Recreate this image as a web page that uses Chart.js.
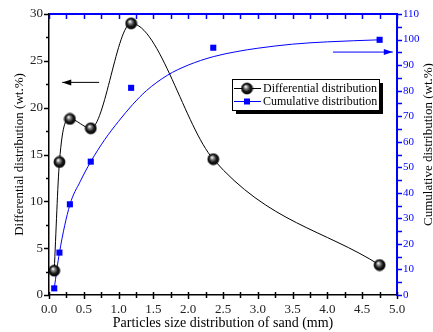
<!DOCTYPE html>
<html>
<head>
<meta charset="utf-8">
<script src="https://cdn.jsdelivr.net/npm/chart.js@4.4.1/dist/chart.umd.min.js"></script>
<style>
  html,body{margin:0;padding:0;background:#fff;}
  #wrap{width:433px;height:332px;}
</style>
</head>
<body>
<div id="wrap"><canvas id="c" width="433" height="332"></canvas></div>
<script>
// sieve sizes (mm) and measured values
const sizeMM = [0.075, 0.15, 0.3, 0.6, 1.18, 2.36, 4.75];
const differential = [2.6, 14.2, 18.8, 17.8, 29.0, 14.5, 3.2];
const cumulative = [2.6, 16.6, 35.5, 52.2, 81.1, 96.8, 99.9];
// fitted cumulative curve
const fitX = [0.075, 0.15, 0.3, 0.45, 0.6, 0.8, 1.0, 1.2, 1.4, 1.7, 2.0, 2.36, 2.7, 3.0, 3.5, 4.0, 4.75];
const fitY = [2.5, 16.6, 35.3, 44.5, 52.2, 60.8, 68.0, 74.5, 80.0, 86.0, 90.0, 93.3, 95.3, 96.6, 98.2, 99.1, 99.9];
// axis ranges
const xRange = [0, 5], xStep = 0.5;
const leftRange = [0, 30], leftStep = 5;
const rightRange = [0, 110], rightStep = 10;

const BLUE = '#0000ff';
const SERIF = '"Liberation Serif", "Times New Roman", serif';

// glossy black ball marker
function makeBall(r){
  const c = document.createElement('canvas');
  const s = Math.ceil(r*2+2);
  c.width = s; c.height = s;
  const g = c.getContext('2d');
  const cx = s/2, cy = s/2;
  const grad = g.createRadialGradient(cx-r*0.25, cy-r*0.35, 0.5, cx, cy, r);
  grad.addColorStop(0, '#f2f2f2');
  grad.addColorStop(0.25, '#8a8a8a');
  grad.addColorStop(0.65, '#1a1a1a');
  grad.addColorStop(1, '#000');
  g.beginPath(); g.arc(cx, cy, r, 0, Math.PI*2);
  g.fillStyle = grad; g.fill();
  g.lineWidth = 0.8; g.strokeStyle = '#000'; g.stroke();
  return c;
}
const ball = makeBall(5.5);

const pts = (xs, ys) => xs.map((x,i)=>({x, y: ys[i]}));

function arrow(ctx, x1, y1, x2, y2, color){
  ctx.save();
  ctx.strokeStyle = color; ctx.fillStyle = color; ctx.lineWidth = 1;
  ctx.beginPath(); ctx.moveTo(x1, y1); ctx.lineTo(x2, y2); ctx.stroke();
  const d = Math.sign(x2 - x1);
  ctx.beginPath();
  ctx.moveTo(x2, y2); ctx.lineTo(x2 - d*9, y2 - 3); ctx.lineTo(x2 - d*9, y2 + 3); ctx.closePath();
  ctx.fill();
  ctx.restore();
}

const decor = {
  id: 'decor',
  afterDraw(chart){
    const ctx = chart.ctx;
    const {x, y, y1} = chart.scales;
    const a = chart.chartArea;
    ctx.save();

    // top frame (blue) with ticks pointing in
    ctx.strokeStyle = BLUE; ctx.lineWidth = 2;
    ctx.beginPath(); ctx.moveTo(a.left, a.top); ctx.lineTo(a.right + 1, a.top); ctx.stroke();
    ctx.lineWidth = 1.5;
    for (let v = xRange[0]; v <= xRange[1] + 1e-9; v += xStep/2){
      const px = Math.round(x.getPixelForValue(v)) + 0.5;
      ctx.beginPath(); ctx.moveTo(px, a.top); ctx.lineTo(px, a.top + 5); ctx.stroke();
    }

    // bottom ticks
    ctx.strokeStyle = '#000';
    for (let v = xRange[0]; v <= xRange[1] + 1e-9; v += xStep/2){
      const major = Math.abs(v/xStep - Math.round(v/xStep)) < 1e-6;
      const px = Math.round(x.getPixelForValue(v)) + 0.5;
      ctx.beginPath(); ctx.moveTo(px, a.bottom - 3); ctx.lineTo(px, a.bottom + (major ? 4 : 3)); ctx.stroke();
    }
    // left ticks
    for (let v = leftRange[0]; v <= leftRange[1] + 1e-9; v += leftStep/2){
      const major = Math.abs(v/leftStep - Math.round(v/leftStep)) < 1e-6;
      const py = Math.round(y.getPixelForValue(v)) + 0.5;
      ctx.beginPath(); ctx.moveTo(a.left - (major ? 5 : 3), py); ctx.lineTo(a.left, py); ctx.stroke();
    }
    // right ticks (blue)
    ctx.strokeStyle = BLUE;
    for (let v = rightRange[0]; v <= rightRange[1] + 1e-9; v += rightStep/2){
      const py = Math.round(y1.getPixelForValue(v)) + 0.5;
      ctx.beginPath(); ctx.moveTo(a.right, py); ctx.lineTo(a.right + 5, py); ctx.stroke();
    }

    // arrows pointing to the owning axis
    arrow(ctx, x.getPixelForValue(0.72), y.getPixelForValue(22.7), x.getPixelForValue(0.19), y.getPixelForValue(22.7), '#000');
    arrow(ctx, x.getPixelForValue(4.08), y1.getPixelForValue(95.1), x.getPixelForValue(4.94), y1.getPixelForValue(95.1), BLUE);

    // axis titles
    ctx.fillStyle = '#000';
    ctx.textAlign = 'center'; ctx.textBaseline = 'middle';
    ctx.font = '14px ' + SERIF;
    ctx.fillText('Particles size distribution of sand (mm)', (a.left + a.right)/2, 323);
    ctx.save();
    ctx.translate(20, (a.top + a.bottom)/2); ctx.rotate(-Math.PI/2);
    ctx.font = '13px ' + SERIF;
    ctx.fillText('Differential distribution (wt.%)', 0, 0);
    ctx.restore();
    ctx.save();
    ctx.translate(429, (a.top + a.bottom)/2 - 10); ctx.rotate(-Math.PI/2);
    ctx.font = '13px ' + SERIF;
    ctx.fillText('Cumulative distribution (wt.%)', 0, 0);
    ctx.restore();

    // legend box with shadow
    const lx = 232, ly = 79, lw = 147, lh = 31;
    ctx.fillStyle = '#000';
    ctx.fillRect(lx + 4, ly + 4, lw, lh);
    ctx.fillStyle = '#fff';
    ctx.fillRect(lx, ly, lw, lh);
    ctx.strokeStyle = '#000'; ctx.lineWidth = 1;
    ctx.strokeRect(lx + 0.5, ly + 0.5, lw, lh);
    const rows = [
      {label: 'Differential distribution', color: '#000', y: ly + 9.5},
      {label: 'Cumulative distribution', color: BLUE, y: ly + 22.5}
    ];
    rows.forEach((r, i) => {
      ctx.strokeStyle = r.color; ctx.lineWidth = 1;
      ctx.beginPath(); ctx.moveTo(lx + 2, r.y); ctx.lineTo(lx + 29, r.y); ctx.stroke();
      if (i === 0) ctx.drawImage(ball, lx + 15 - ball.width/2, r.y - ball.height/2);
      else { ctx.fillStyle = BLUE; ctx.fillRect(lx + 12, r.y - 3, 6, 6); }
      ctx.fillStyle = '#000';
      ctx.textAlign = 'left'; ctx.textBaseline = 'middle';
      ctx.font = '12px ' + SERIF;
      ctx.fillText(r.label, lx + 31, r.y + 0.5);
    });

    ctx.restore();
  }
};

new Chart(document.getElementById('c').getContext('2d'), {
  type: 'scatter',
  data: {
    datasets: [
      {
        label: 'Differential distribution',
        data: pts(sizeMM, differential),
        yAxisID: 'y',
        showLine: true,
        cubicInterpolationMode: 'monotone',
        borderColor: '#000', borderWidth: 1,
        pointStyle: ball,
        order: 1
      },
      {
        label: 'Cumulative fit',
        data: pts(fitX, fitY),
        yAxisID: 'y1',
        showLine: true,
        cubicInterpolationMode: 'monotone',
        borderColor: BLUE, borderWidth: 1,
        pointRadius: 0, pointHoverRadius: 0,
        order: 3
      },
      {
        label: 'Cumulative distribution',
        data: pts(sizeMM, cumulative),
        yAxisID: 'y1',
        showLine: false,
        pointStyle: 'rect', pointRadius: 4.3,
        backgroundColor: BLUE, borderColor: BLUE, borderWidth: 0,
        order: 2
      }
    ]
  },
  options: {
    responsive: false,
    animation: false,
    devicePixelRatio: 1,
    layout: {padding: {top: 14, left: 0, right: 0, bottom: 0}},
    plugins: {legend: {display: false}, tooltip: {enabled: false}},
    scales: {
      x: {
        type: 'linear', position: 'bottom',
        min: xRange[0], max: xRange[1],
        grid: {display: false, drawTicks: false},
        border: {display: true, color: '#000', width: 1.5},
        ticks: {stepSize: xStep, padding: 7, color: '#222', font: {family: SERIF, size: 13},
                callback: v => v.toFixed(1), maxRotation: 0, autoSkip: false},
        afterFit: s => { s.height = 37; }
      },
      y: {
        type: 'linear', position: 'left',
        min: leftRange[0], max: leftRange[1],
        grid: {display: false, drawTicks: false},
        border: {display: true, color: '#000', width: 1.5},
        ticks: {stepSize: leftStep, padding: 6, color: '#222', font: {family: SERIF, size: 13}},
        afterFit: s => { s.width = 49; }
      },
      y1: {
        type: 'linear', position: 'right',
        min: rightRange[0], max: rightRange[1],
        grid: {display: false, drawTicks: false},
        border: {display: true, color: BLUE, width: 2},
        ticks: {stepSize: rightStep, padding: 6, color: BLUE, font: {family: SERIF, size: 11}},
        afterFit: s => { s.width = 36; }
      }
    }
  },
  plugins: [decor]
});
</script>
</body>
</html>
